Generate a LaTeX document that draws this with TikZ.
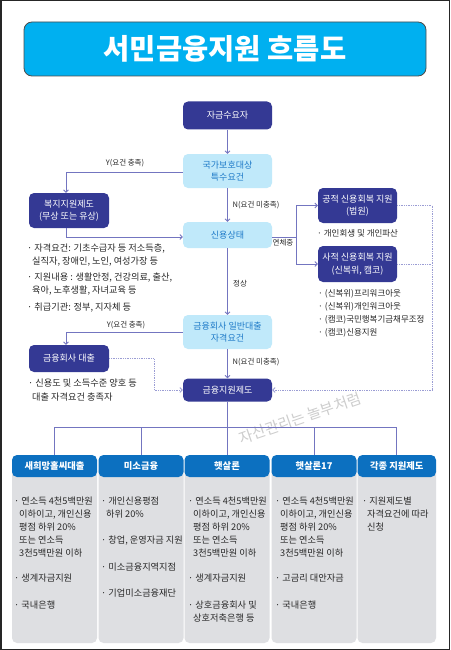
\documentclass[tikz,border=0pt]{standalone}
\usepackage{fontspec}
\setmainfont{Noto Sans CJK KR}
\usetikzlibrary{arrows.meta}
\definecolor{navyC}{RGB}{52,57,148}
\definecolor{lblueC}{RGB}{192,233,250}
\definecolor{ltextC}{RGB}{30,122,200}
\definecolor{titleC}{RGB}{0,176,240}
\definecolor{lineC}{RGB}{115,117,192}
\definecolor{dotC}{RGB}{155,157,212}
\definecolor{hdrC}{RGB}{12,112,192}
\definecolor{panelC}{RGB}{222,223,226}
\definecolor{txtC}{RGB}{40,40,40}
\definecolor{wmC}{RGB}{205,205,205}
\newcommand\boxf{\fontsize{9}{12.5}\selectfont}
\newcommand\bodyf{\fontsize{9.2}{10}\selectfont}
\newcommand\sidef{\fontsize{8.5}{10}\selectfont}
\newcommand\lblf{\fontsize{7.5}{8}\selectfont}
\begin{document}
\begin{tikzpicture}[x=1pt,y=-1pt,
  dbox/.style={fill=navyC, text=white, rounded corners=5pt, minimum width=89pt, align=center, font=\boxf, inner sep=0pt},
  lbox/.style={fill=lblueC, text=ltextC, rounded corners=5pt, minimum width=89pt, align=center, font=\boxf, inner sep=0pt},
  conn/.style={draw=lineC, line width=0.75pt},
  arr/.style={-{Straight Barb[length=2.5pt,width=5pt]}},
  dline/.style={draw=dotC, line width=0.75pt, densely dotted},
  lbl/.style={font=\lblf, text=txtC, inner sep=0.5pt},
  tx/.style={anchor=base west, inner sep=0pt, font=\bodyf, text=txtC},
  stx/.style={tx, font=\sidef},
  hdr/.style={fill=hdrC, text=white, rounded corners=5pt, minimum height=22pt, font=\fontsize{9.3}{10}\selectfont\bfseries, inner sep=0pt},
  panel/.style={fill=panelC, rounded corners=5pt}
]
\useasboundingbox (0,0) rectangle (450,650);
\fill[white] (0,0) rectangle (450,650);
\draw[line width=1.5pt, black!85] (0.75,0.75) rectangle (449.25,649.25);

% watermark
\node[font=\fontsize{15}{16}\selectfont, text=wmC, rotate=19] (wm) at (300,418) {자산관리는 놀부처럼};

% title
\node[fill=titleC, draw=black!70, line width=0.8pt, rounded corners=8pt, minimum width=402pt, minimum height=54pt, text=white, font=\fontsize{28.5}{30}\selectfont\bfseries, inner sep=0pt] (title) at (225,49) {서민금융지원 흐름도};

% flow boxes
\node[dbox, minimum height=28pt] (demand) at (227.5,115.5) {자금수요자};
\node[lbox, minimum height=34pt] (nat) at (227.5,171) {국가보호대상\\특수요건};
\node[lbox, minimum height=26pt] (credit) at (227.5,235) {신용상태};
\node[lbox, minimum height=34pt] (gen) at (227.5,332) {금융회사 일반대출\\자격요건};
\node[dbox, minimum height=23pt] (fin) at (227.5,390) {금융지원제도};
\node[dbox, minimum width=80pt, minimum height=35pt] (welfare) at (69,210.5) {복지지원제도\\(무상 또는 유상)};
\node[dbox, minimum width=80pt, minimum height=27pt] (loan) at (69,358.5) {금융회사 대출};
\node[dbox, minimum width=79pt, minimum height=35pt] (pub) at (357.5,205.5) {공적 신용회복 지원\\(법원)};
\node[dbox, minimum width=79pt, minimum height=36pt] (priv) at (357.5,264) {사적 신용회복 지원\\(신복위, 캠코)};

% connectors
\coordinate (split) at (296,235);
\coordinate (lp) at (154,358.5);
\coordinate (rx) at (432,205.5);
\draw[conn,arr] (demand) -- (nat);
\draw[conn,arr] ([yshift=-1pt]nat.west) -| ([xshift=-3pt]welfare.north);
\draw[conn,arr] (nat) -- (credit);
\draw[conn,arr] ([xshift=-3pt]welfare.south) |- ([yshift=-2pt]credit.west);
\draw[conn] ([yshift=-2pt]credit.east) -- ([yshift=-2pt]split);
\draw[conn,arr] ([yshift=-2pt]split) |- (pub.west);
\draw[conn,arr] ([yshift=-2pt]split) |- (priv.west);
\draw[conn,arr] (credit) -- (gen);
\draw[conn,arr] (gen.west) -| ([xshift=-3pt]loan.north);
\draw[conn,arr] (gen) -- (fin);
\draw[dline,arr] (loan.east) -- (lp) |- (fin.west);
\draw[dline] (pub.east) -- (rx);
\draw[dline] (priv.east) -- (priv.east -| rx);
\draw[dline,arr] (rx) |- (fin.east);

% labels
\node[lbl] (ly1) at (125,163) {Y(요건 충족)};
\node[lbl, anchor=west] (ln1) at (232,205) {N(요건 미충족)};
\node[lbl] (lyeon) at (283,243) {연체중};
\node[lbl] (lok) at (240,284) {정상};
\node[lbl] (ly2) at (126,325) {Y(요건 충족)};
\node[lbl, anchor=west] (ln2) at (232,362) {N(요건 미충족)};

% side texts
\node[stx] (pa) at (317,236) {· 개인회생 및 개인파산};
\node[stx] (pb1) at (318,296) {· (신복위)프리워크아웃};
\node[stx] (pb2) at (318,309) {· (신복위)개인워크아웃};
\node[stx] (pb3) at (318,322) {· (캠코)국민행복기금채무조정};
\node[stx] (pb4) at (318,335) {· (캠코)신용지원};
\node[tx] (wa1) at (27,251) {· 자격요건: 기초수급자 등 저소득층,};
\node[tx] (wa2) at (32,264) {실직자, 장애인, 노인, 여성가장 등};
\node[tx] (wb1) at (27,280.5) {· 지원내용 : 생활안정, 건강의료, 출산,};
\node[tx] (wb2) at (32,293.5) {육아, 노후생활, 자녀교육 등};
\node[tx] (wc1) at (27,310) {· 취급기관: 정부, 지자체 등};
\node[tx] (la1) at (28,386) {· 신용도 및 소득수준 양호 등};
\node[tx] (la2) at (32,400) {대출 자격요건 충족자};

% bottom panels
\fill[panel] (12,466) rectangle (97,643);
\fill[panel] (98.5,466) rectangle (183.5,643);
\fill[panel] (184.5,466) rectangle (269.5,643);
\fill[panel] (271.5,466) rectangle (356.5,643);
\fill[panel] (357.5,466) rectangle (436,643);
\node[hdr, minimum width=85pt] (h1) at (54.5,466) {새희망홀씨대출};
\node[hdr, minimum width=85pt] (h2) at (141,466) {미소금융};
\node[hdr, minimum width=85pt] (h3) at (227,466) {햇살론};
\node[hdr, minimum width=85pt] (h4) at (314,466) {햇살론17};
\node[hdr, minimum width=78.5pt] (h5) at (396.75,466) {각종 지원제도};

\coordinate (bar) at (227,427);
\draw[conn] (fin.south) -- (fin.south |- bar);
\draw[conn] (h1.north) |- (h5.north |- bar) -- (h5.north);
\draw[conn] (h2.north) -- (h2.north |- bar);
\draw[conn] (h3.north) -- (h3.north |- bar);
\draw[conn] (h4.north) -- (h4.north |- bar);

% column 1
\node[tx] (c1a) at (14,504) {· 연소득 4천5백만원};
\node[tx] (c1b) at (19,517) {이하이고, 개인신용};
\node[tx] (c1c) at (19,530) {평점 하위 20\%};
\node[tx] (c1d) at (19,543) {또는 연소득};
\node[tx] (c1e) at (19,556) {3천5백만원 이하};
\node[tx] (c1f) at (14,581) {· 생계자금지원};
\node[tx] (c1g) at (14,608) {· 국내은행};
% column 2
\node[tx] (c2a) at (101,504) {· 개인신용평점};
\node[tx] (c2b) at (106,517) {하위 20\%};
\node[tx] (c2c) at (101,543) {· 창업, 운영자금 지원};
\node[tx] (c2d) at (101,570) {· 미소금융지역지점};
\node[tx] (c2e) at (101,596) {· 기업미소금융재단};
% column 3
\node[tx] (c3a) at (188,504) {· 연소득 4천5백만원};
\node[tx] (c3b) at (193,517) {이하이고, 개인신용};
\node[tx] (c3c) at (193,530) {평점 하위 20\%};
\node[tx] (c3d) at (193,543) {또는 연소득};
\node[tx] (c3e) at (193,556) {3천5백만원 이하};
\node[tx] (c3f) at (188,581) {· 생계자금지원};
\node[tx] (c3g) at (188,608) {· 상호금융회사 및};
\node[tx] (c3h) at (193,621) {상호저축은행 등};
% column 4
\node[tx] (c4a) at (275,504) {· 연소득 4천5백만원};
\node[tx] (c4b) at (280,517) {이하이고, 개인신용};
\node[tx] (c4c) at (280,530) {평점 하위 20\%};
\node[tx] (c4d) at (280,543) {또는 연소득};
\node[tx] (c4e) at (280,556) {3천5백만원 이하};
\node[tx] (c4f) at (275,581) {· 고금리 대안자금};
\node[tx] (c4g) at (275,608) {· 국내은행};
% column 5
\node[tx] (c5a) at (362,504) {· 지원제도별};
\node[tx] (c5b) at (367,517) {자격요건에 따라};
\node[tx] (c5c) at (367,530) {신청};
\end{tikzpicture}
\end{document}
